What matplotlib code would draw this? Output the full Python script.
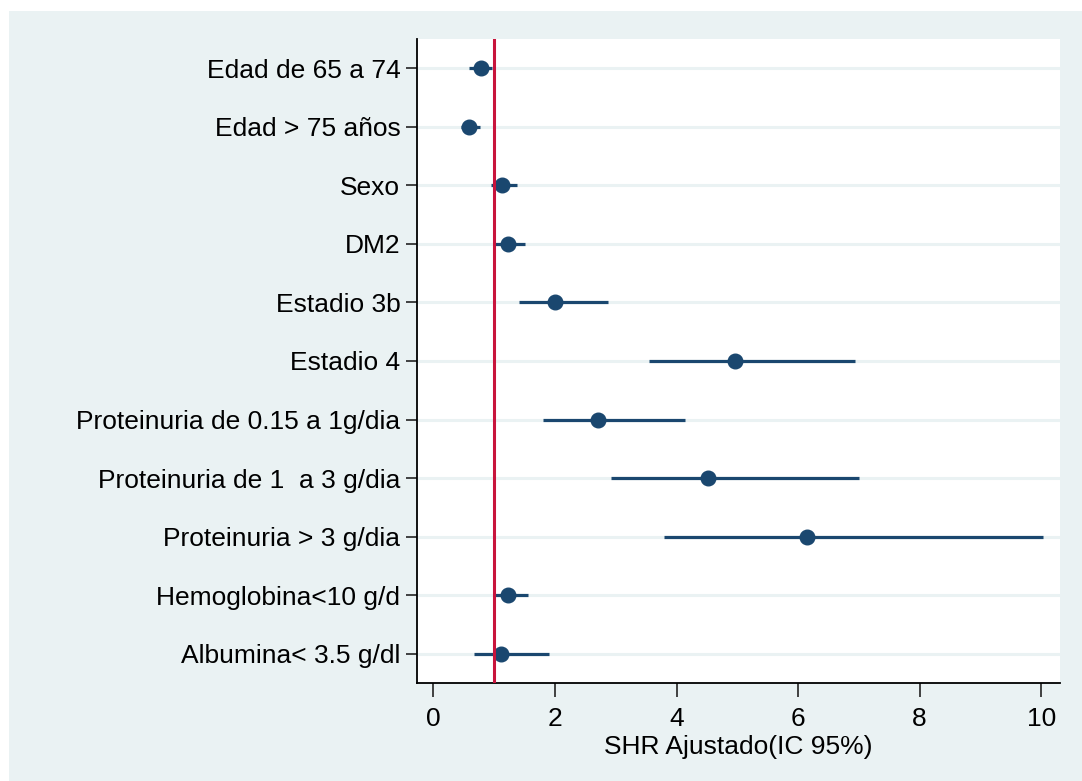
import matplotlib.pyplot as plt
from matplotlib.patches import Rectangle

plt.rcParams['font.family'] = ['Liberation Sans', 'DejaVu Sans']

# variables (de arriba hacia abajo)
variables = [
    "Edad de 65 a 74",
    "Edad > 75 años",
    "Sexo",
    "DM2",
    "Estadio 3b",
    "Estadio 4",
    "Proteinuria de 0.15 a 1g/dia",
    "Proteinuria de 1  a 3 g/dia",
    "Proteinuria > 3 g/dia",
    "Hemoglobina<10 g/d",
    "Albumina< 3.5 g/dl",
]
shr = [0.79, 0.59, 1.13, 1.23, 2.00, 4.97, 2.71, 4.51, 6.15, 1.23, 1.12]
ic_inf = [0.58, 0.46, 0.95, 1.02, 1.41, 3.55, 1.81, 2.93, 3.80, 1.00, 0.67]
ic_sup = [0.97, 0.77, 1.38, 1.51, 2.88, 6.94, 4.14, 7.01, 10.03, 1.55, 1.91]
xticks = [0, 2, 4, 6, 8, 10]

azul = "#1a476f"
rojo = "#c8143c"
fondo = "#eaf2f3"

fig = plt.figure(figsize=(10.82, 7.81), dpi=100, facecolor="white")
fig.patches.append(Rectangle((9 / 1082, 0), 1, 1 - 11 / 781,
                             transform=fig.transFigure, facecolor=fondo,
                             edgecolor="none", zorder=-10))

ax = fig.add_axes([417 / 1082, 1 - 683 / 781, (1060 - 417) / 1082, (683 - 39) / 781])
ax.set_facecolor("white")

n = len(variables)
pos = list(range(n, 0, -1))

# lineas de fondo
for p in pos:
    ax.axhline(p, color=fondo, lw=2.2, zorder=1)

ax.hlines(pos, ic_inf, ic_sup, color=azul, lw=2.3, zorder=3)
ax.plot(shr, pos, "o", color=azul, markersize=10.5, zorder=4)
ax.axvline(1, color=rojo, lw=2.2, zorder=5)

ax.set_xlim(-0.27, 10.31)
ax.set_ylim(0.5, n + 0.5)
ax.set_yticks(pos)
ax.set_yticklabels(variables, fontsize=19)
ax.set_xticks(xticks)
ax.set_xticklabels([str(t) for t in xticks], fontsize=19)
ax.tick_params(axis="both", width=1.3, color="#333333")
ax.tick_params(axis="y", length=8, pad=4)
ax.tick_params(axis="x", length=10, pad=7)
ax.set_xlabel("SHR Ajustado(IC 95%)", fontsize=19, labelpad=3)

for s in ["top", "right"]:
    ax.spines[s].set_visible(False)
for s in ["left", "bottom"]:
    ax.spines[s].set_linewidth(1.3)

fig.savefig("out.png", dpi=100, facecolor=fig.get_facecolor())
